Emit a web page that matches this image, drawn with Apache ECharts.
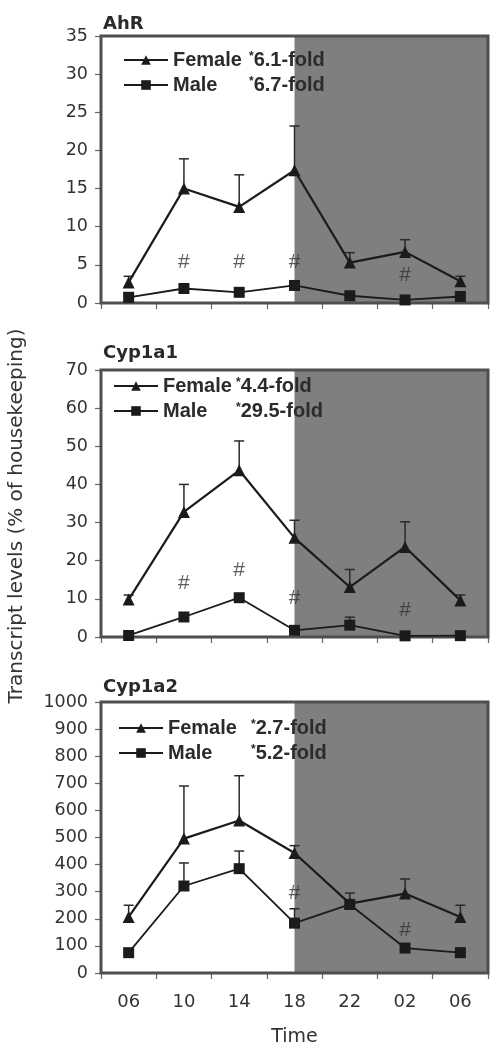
<!DOCTYPE html>
<html><head><meta charset="utf-8">
<script src="https://cdn.jsdelivr.net/npm/echarts@6/dist/echarts.min.js"></script>
<style>html,body{margin:0;padding:0;background:#fff}#c{width:493px;height:1050px}</style>
</head><body><div id="c"></div><script>
// ---- data ----
const times = ['06', '10', '14', '18', '22', '02', '06'];
const panelTitles = ['AhR', 'Cyp1a1', 'Cyp1a2'];
const femaleFold = ['6.1-fold', '4.4-fold', '2.7-fold'];
const maleFold = ['6.7-fold', '29.5-fold', '5.2-fold'];
const yMax = [35, 70, 1000];
const yStep = [5, 10, 100];

const ahrFemale    = [2.7, 15.0, 12.6, 17.4, 5.3, 6.7, 2.85];
const ahrFemaleErr = [3.5, 18.9, 16.8, 23.2, 6.6, 8.3, 3.5];
const ahrMale      = [0.75, 1.9, 1.4, 2.3, 0.95, 0.4, 0.85];
const ahrMaleErr   = [null, null, null, null, null, null, null];
const ahrHash      = [null, 5.3, 5.3, 5.3, null, 3.7, null];

const cyp1a1Female    = [9.8, 32.8, 43.7, 26.0, 13.1, 23.6, 9.6];
const cyp1a1FemaleErr = [11.0, 40.0, 51.4, 30.6, 17.7, 30.2, 11.0];
const cyp1a1Male      = [0.4, 5.25, 10.3, 1.75, 3.1, 0.3, 0.35];
const cyp1a1MaleErr   = [null, null, null, null, 5.2, null, null];
const cyp1a1Hash      = [null, 14.0, 17.5, 10.2, null, 7.0, null];

const cyp1a2Female    = [207, 496, 563, 443, 256, 293, 207];
const cyp1a2FemaleErr = [250, 690, 728, 470, 295, 347, 250];
const cyp1a2Male      = [75, 321, 385, 184, 253, 92, 75];
const cyp1a2MaleErr   = [null, 406, 450, 237, null, null, null];
const cyp1a2Hash      = [null, null, null, 295, null, 157, null];

const femaleSets = [ahrFemale, cyp1a1Female, cyp1a2Female];
const femaleErrSets = [ahrFemaleErr, cyp1a1FemaleErr, cyp1a2FemaleErr];
const maleSets = [ahrMale, cyp1a1Male, cyp1a2Male];
const maleErrSets = [ahrMaleErr, cyp1a1MaleErr, cyp1a2MaleErr];
const hashSets = [ahrHash, cyp1a1Hash, cyp1a2Hash];

// ---- layout ----
const gridTops = [36, 370, 702];
const gridHeights = [267, 267, 271];
const legendLeft = [118, 108, 113];
const legendTop = [45, 371, 713];
const legendNameW = [76, 73, 83];
const titleTops = [10, 339, 673];

const INK = '#1b1b1b';
const TXT = '#333';
const SHADE = '#7f7f82';

function errRender(params, api) {
  const top = api.value(2);
  if (top == null || isNaN(top)) return null;
  const p0 = api.coord([api.value(0), api.value(1)]);
  const p1 = api.coord([api.value(0), top]);
  const st = { stroke: '#2a2a2a', lineWidth: 1.5 };
  return {
    type: 'group',
    children: [
      { type: 'line', shape: { x1: p0[0], y1: p0[1], x2: p1[0], y2: p1[1] }, style: st },
      { type: 'line', shape: { x1: p1[0] - 5, y1: p1[1], x2: p1[0] + 5, y2: p1[1] }, style: st }
    ]
  };
}

const grids = [], xAxes = [], yAxes = [], series = [], legends = [], titles = [];
for (let i = 0; i < 3; i++) {
  grids.push({ left: 101, right: 5, top: gridTops[i], height: gridHeights[i], show: true,
    borderColor: '#4f4f4f', borderWidth: 3, backgroundColor: 'transparent', z: 1 });
  xAxes.push({
    type: 'category', gridIndex: i, data: times, boundaryGap: true,
    axisLine: { show: true, lineStyle: { color: '#555', width: 1 } },
    axisTick: { show: true, length: 6, alignWithLabel: false, lineStyle: { color: '#666', width: 1.2 } },
    axisLabel: { show: i === 2, margin: 20, color: TXT, fontSize: 18, fontFamily: 'DejaVu Sans' },
    name: i === 2 ? 'Time' : '', nameLocation: 'middle', nameGap: 55,
    nameTextStyle: { color: TXT, fontSize: 19, fontFamily: 'DejaVu Sans' },
    splitLine: { show: false }
  });
  yAxes.push({
    type: 'value', gridIndex: i, min: 0, max: yMax[i], interval: yStep[i],
    axisLine: { show: true, lineStyle: { color: '#555' } },
    axisTick: { show: true, length: 6, lineStyle: { color: '#666', width: 1.2 } },
    axisLabel: { margin: 13, color: TXT, fontSize: 17.5, fontFamily: 'DejaVu Sans',
      formatter: function (v) { return String(v); } },
    splitLine: { show: false }
  });
  titles.push({ text: panelTitles[i], left: 98, top: titleTops[i],
    textStyle: { fontSize: 18, fontWeight: 'bold', color: '#2a2a2a', fontFamily: 'DejaVu Sans' } });

  const fIdx = i, ff = femaleFold[i], mf = maleFold[i];
  legends.push({
    data: ['Female', 'Male'], orient: 'vertical', left: legendLeft[i], top: legendTop[i],
    itemWidth: 44, itemHeight: 12, itemGap: 5, selectedMode: false,
    formatter: function (name) {
      return '{n|' + name + '}{s|*}{f|' + (name === 'Female' ? ff : mf) + '}';
    },
    textStyle: {
      rich: {
        n: { width: legendNameW[fIdx], fontSize: 20, fontWeight: 'bold', color: '#2b2b2b', fontFamily: 'Liberation Sans', lineHeight: 22 },
        s: { fontSize: 12, fontWeight: 'bold', color: '#2b2b2b', fontFamily: 'Liberation Sans', padding: [0, 0, 6, 0] },
        f: { fontSize: 20, fontWeight: 'bold', color: '#2b2b2b', fontFamily: 'Liberation Sans', lineHeight: 22 }
      }
    }
  });

  series.push({
    name: 'Female', type: 'line', xAxisIndex: i, yAxisIndex: i, z: 4,
    data: femaleSets[i], symbol: 'triangle', symbolSize: 12,
    lineStyle: { color: INK, width: 2.2 }, itemStyle: { color: INK },
    markArea: { silent: true, z: 0.5, itemStyle: { color: SHADE }, data: [[{ xAxis: 3 }, {}]] }
  });
  series.push({
    name: 'Male', type: 'line', xAxisIndex: i, yAxisIndex: i, z: 3,
    data: maleSets[i], symbol: 'rect', symbolSize: 11,
    lineStyle: { color: INK, width: 1.8 }, itemStyle: { color: INK }
  });
  series.push({
    type: 'custom', xAxisIndex: i, yAxisIndex: i, z: 3, renderItem: errRender, silent: true,
    data: femaleSets[i].map((v, k) => [k, v, femaleErrSets[i][k]])
  });
  series.push({
    type: 'custom', xAxisIndex: i, yAxisIndex: i, z: 3, renderItem: errRender, silent: true,
    data: maleSets[i].map((v, k) => [k, v, maleErrSets[i][k]])
  });
  series.push({
    type: 'scatter', xAxisIndex: i, yAxisIndex: i, z: 3, silent: true,
    symbolSize: 1, itemStyle: { color: 'rgba(0,0,0,0)' },
    data: hashSets[i].map((v, k) => [k, v]),
    label: { show: true, position: 'inside', formatter: '#', fontSize: 21, color: '#333', fontFamily: 'Liberation Sans' }
  });
}

const chart = echarts.init(document.getElementById('c'), null, { renderer: 'canvas' });
chart.setOption({
  animation: false,
  backgroundColor: '#fff',
  title: titles,
  grid: grids,
  xAxis: xAxes,
  yAxis: yAxes,
  legend: legends,
  series: series,
  graphic: [{
    type: 'text', x: 17, y: 516, rotation: Math.PI / 2,
    style: { text: 'Transcript levels (% of housekeeping)', fill: TXT, fontSize: 20,
      fontFamily: 'DejaVu Sans', align: 'center', verticalAlign: 'middle' }
  }]
});
</script></body></html>
